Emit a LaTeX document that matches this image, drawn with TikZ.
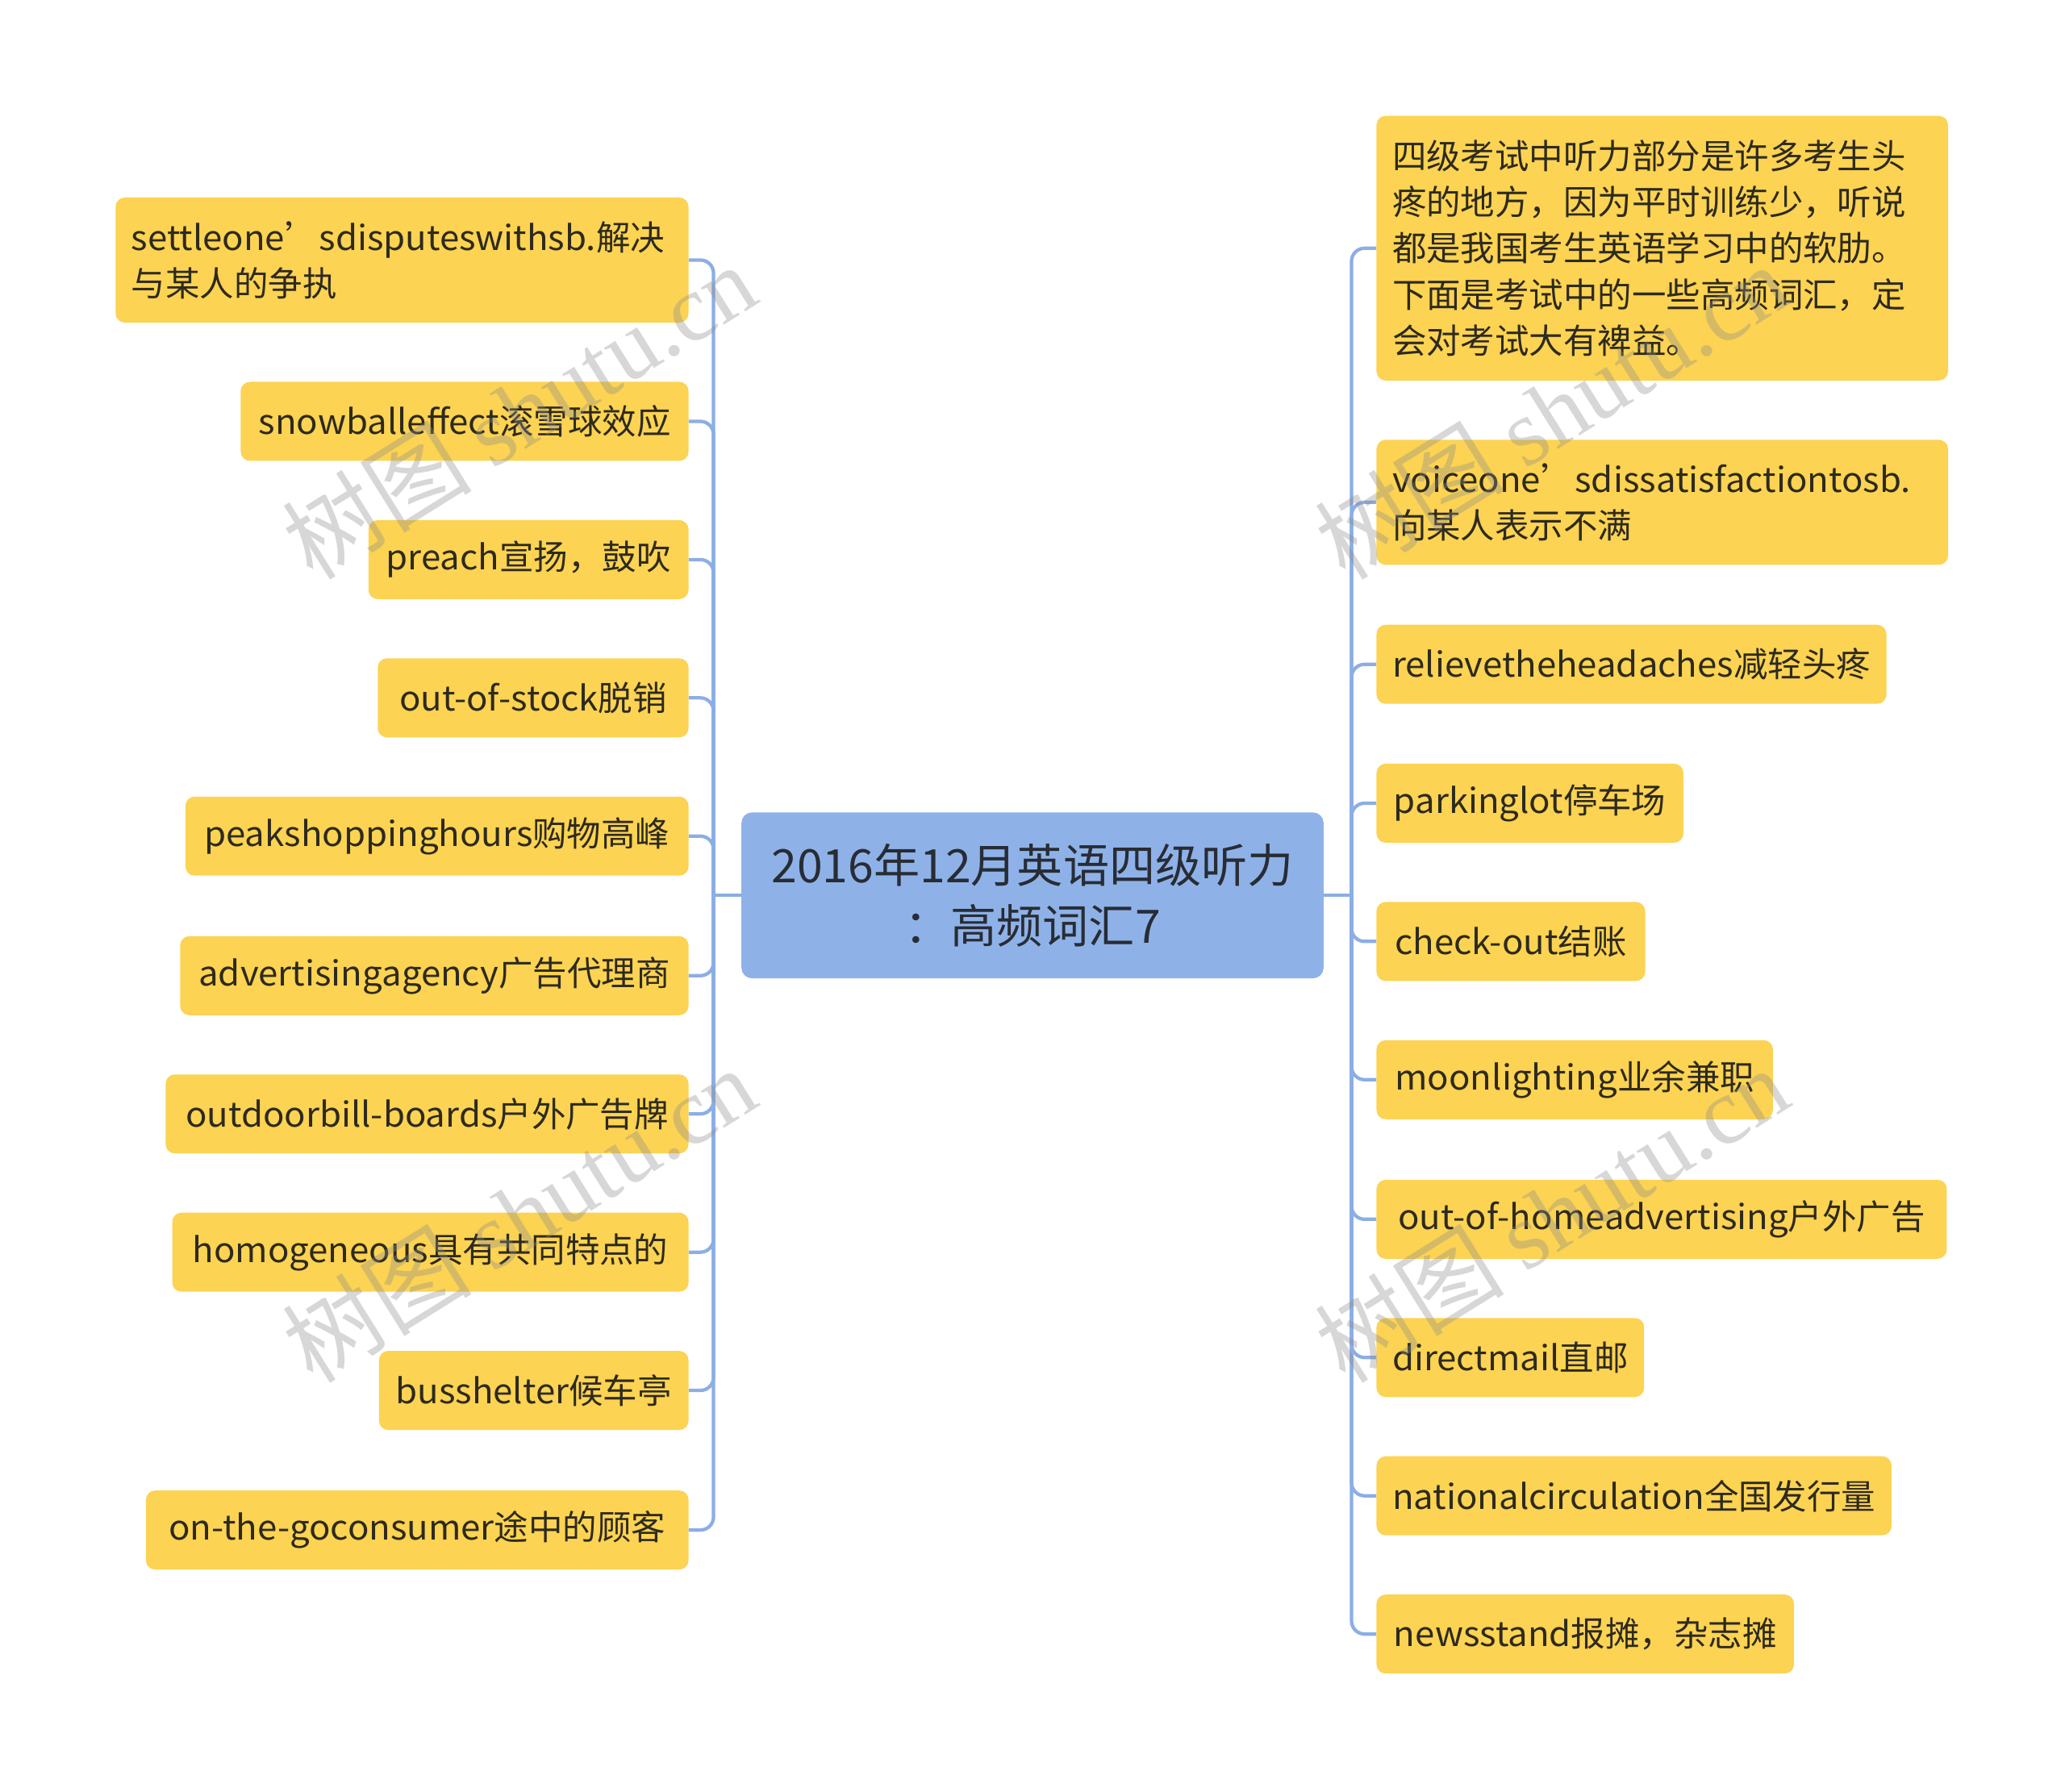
\documentclass[tikz,border=0pt]{standalone}
\usepackage{fontspec}
\setmainfont{Noto Sans CJK SC}
\newfontfamily\lat[FakeStretch=1.03]{Noto Sans CJK SC}
\newfontfamily\wmlatin{Liberation Serif}
\newfontfamily\wmcjk{Noto Sans CJK SC}
\usetikzlibrary{calc}
\definecolor{leafY}{RGB}{252,211,82}
\definecolor{rootB}{RGB}{142,178,232}
\definecolor{connB}{RGB}{139,174,228}
\definecolor{txtC}{RGB}{45,42,30}
\definecolor{rootT}{RGB}{40,44,52}
\begin{document}
\begin{tikzpicture}[x=1pt,y=-1pt,
  leaf/.style={fill=leafY, rounded corners=7pt, minimum height=60pt, inner xsep=12pt, inner ysep=6pt,
    font=\fontsize{26pt}{35pt}\selectfont, text=txtC},
  lleaf/.style={leaf, anchor=east},
  rleaf/.style={leaf, anchor=west},
  rootbox/.style={fill=rootB, rounded corners=8pt, minimum width=442pt, minimum height=126pt, align=center,
    font=\fontsize{35pt}{46pt}\selectfont, text=rootT},
  conn/.style={draw=connB, line width=2.6pt},
  wm/.style={text=black!45, opacity=0.35, font=\fontsize{72pt}{76pt}\selectfont}
]
\useasboundingbox (0,0) rectangle (1568,1360.4);

\node[rootbox] (root) at (784,680) {2016年12月英语四级听力\\：高频词汇7};

% left leaves
\node[lleaf, minimum height=95pt, align=left, text width=411pt] (l1) at (523,197.5) {{\lat settleone}’{\lat sdisputeswithsb.}解决\\与某人的争执};
\node[lleaf, minimum width=340pt] (l2) at (523,320) {{\lat snowballeffect}滚雪球效应};
\node[lleaf, minimum width=243pt] (l3) at (523,425) {{\lat preach}宣扬，鼓吹};
\node[lleaf, minimum width=236pt] (l4) at (523,530) {{\lat out-of-stock}脱销};
\node[lleaf, minimum width=382pt] (l5) at (523,635) {{\lat peakshoppinghours}购物高峰};
\node[lleaf, minimum width=386pt] (l6) at (523,741) {{\lat advertisingagency}广告代理商};
\node[lleaf, minimum width=397pt] (l7) at (523,846) {{\lat outdoorbill-boards}户外广告牌};
\node[lleaf, minimum width=392pt] (l8) at (523,951) {{\lat homogeneous}具有共同特点的};
\node[lleaf, minimum width=235pt] (l9) at (523,1056) {{\lat busshelter}候车亭};
\node[lleaf, minimum width=412pt] (l10) at (523,1162) {{\lat on-the-goconsumer}途中的顾客};

% right leaves
\node[rleaf, minimum height=201pt, align=left, text width=410pt] (r1) at (1045,188.5) {四级考试中听力部分是许多考生头\\疼的地方，因为平时训练少，听说\\都是我国考生英语学习中的软肋。\\下面是考试中的一些高频词汇，定\\会对考试大有裨益。};
\node[rleaf, minimum height=95pt, align=left, text width=410pt] (r2) at (1045,381.5) {{\lat voiceone}’{\lat sdissatisfactiontosb.}\\向某人表示不满};
\node[rleaf, minimum width=387pt] (r3) at (1045,504.5) {{\lat relievetheheadaches}减轻头疼};
\node[rleaf, minimum width=233pt] (r4) at (1045,610) {{\lat parkinglot}停车场};
\node[rleaf, minimum width=204pt] (r5) at (1045,715) {{\lat check-out}结账};
\node[rleaf, minimum width=301pt] (r6) at (1045,820) {{\lat moonlighting}业余兼职};
\node[rleaf, minimum width=433pt] (r7) at (1045,926) {{\lat out-of-homeadvertising}户外广告};
\node[rleaf, minimum width=203pt] (r8) at (1045,1031) {{\lat directmail}直邮};
\node[rleaf, minimum width=390pt] (r9) at (1045,1136) {{\lat nationalcirculation}全国发行量};
\node[rleaf, minimum width=317pt] (r10) at (1045,1241) {{\lat newsstand}报摊，杂志摊};

% connectors
\coordinate (lj) at ($(root.west)+(-21,0)$);
\coordinate (rj) at ($(root.east)+(21,0)$);
\draw[conn] (root.west) -- (lj);
\draw[conn] (root.east) -- (rj);
\foreach \n in {l1,l2,l3,l4,l5,l6,l7,l8,l9,l10}{
  \draw[conn, rounded corners=10pt] (lj) |- (\n.east);
}
\foreach \n in {r1,r2,r3,r4,r5,r6,r7,r8,r9,r10}{
  \draw[conn, rounded corners=10pt] (rj) |- (\n.west);
}

% watermarks
\node[wm, rotate=32] (w1) at (394,312) {\wmcjk 树图\ \wmlatin shutu.cn};
\node[wm, rotate=32] (w2) at (394,922) {\wmcjk 树图\ \wmlatin shutu.cn};
\node[wm, rotate=32] (w3) at (1178,312) {\wmcjk 树图\ \wmlatin shutu.cn};
\node[wm, rotate=32] (w4) at (1178,922) {\wmcjk 树图\ \wmlatin shutu.cn};
\end{tikzpicture}
\end{document}
